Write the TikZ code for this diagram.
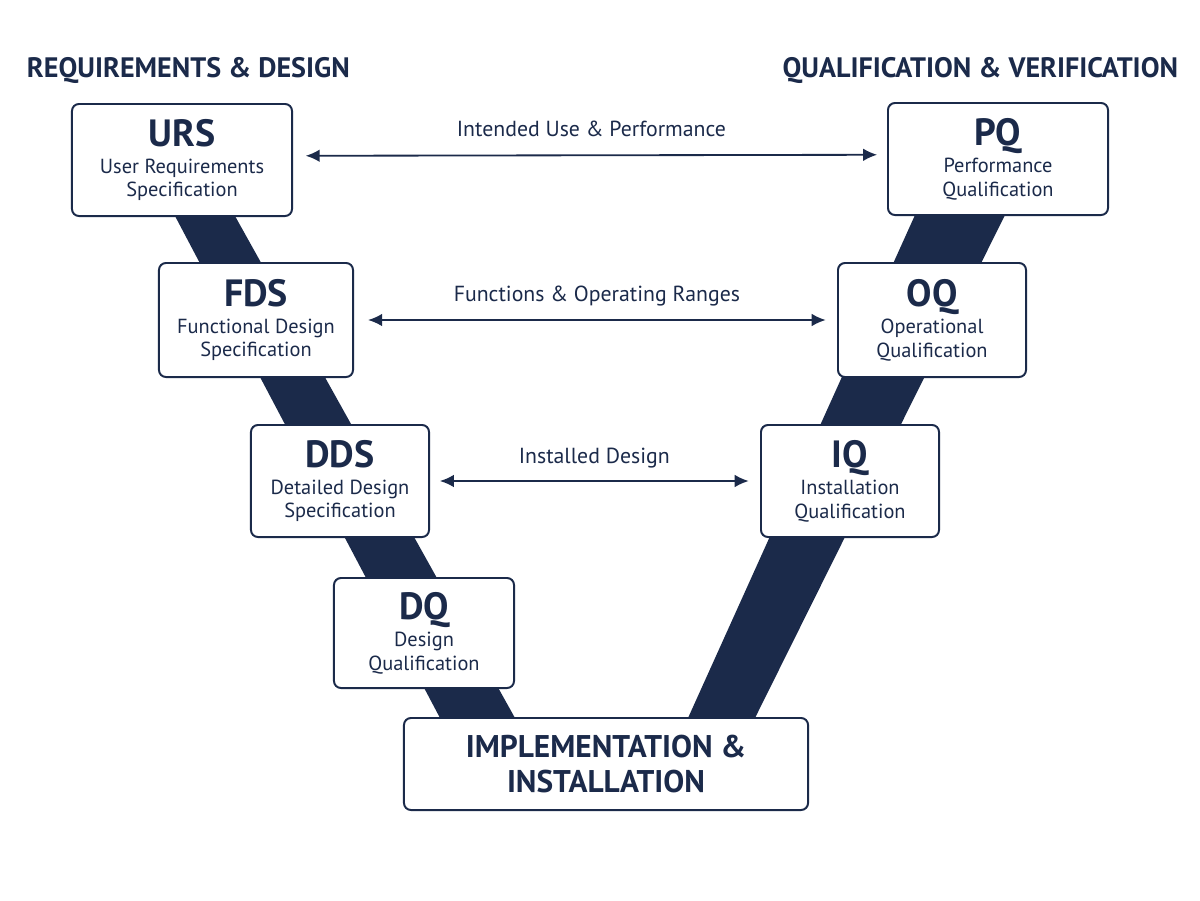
\documentclass[tikz,border=0pt]{standalone}
\usepackage{fontspec}
\setmainfont{PT Sans}
\usetikzlibrary{arrows.meta}
\definecolor{navy}{HTML}{1B2A4A}
\tikzset{
  stage/.style={draw=navy, line width=1.4pt, fill=white, rounded corners=5pt, align=center, text=navy, inner sep=0pt, font=\fontsize{14.5}{16.5}\selectfont},
  link/.style={{Latex[length=10pt,width=9pt]}-{Latex[length=10pt,width=9pt]}, navy, line width=1.3pt},
  linklabel/.style={text=navy, font=\fontsize{15.5}{17}\selectfont},
  head/.style={text=navy, font=\fontsize{20}{22}\selectfont\bfseries}
}
\newcommand{\stagename}[1]{\fontsize{27}{31}\selectfont\bfseries #1}
\begin{document}
\begin{tikzpicture}[x=0.025cm, y=-0.025cm]
\useasboundingbox (0,0) rectangle (1200,900);
% V bands
\fill[navy] (175,216) -- (235,216) -- (515,718) -- (440,718) -- cycle;
\fill[navy] (915,215) -- (1005,215) -- (755,718) -- (688,718) -- cycle;

% Headings
\node[head, anchor=west] (reqhead) at (22,70) {REQUIREMENTS \& DESIGN};
\node[head, anchor=east] (qualhead) at (1183,70) {QUALIFICATION \& VERIFICATION};

% Left side
\node[stage, minimum width=5.5cm, minimum height=2.8cm] (urs) at (182,160) {\stagename{URS}\\[3pt]User Requirements\\Specification};
\node[stage, minimum width=4.85cm, minimum height=2.85cm] (fds) at (256,320) {\stagename{FDS}\\[3pt]Functional Design\\Specification};
\node[stage, minimum width=4.45cm, minimum height=2.8cm] (dds) at (340,481) {\stagename{DDS}\\[3pt]Detailed Design\\Specification};
\node[stage, minimum width=4.5cm, minimum height=2.75cm] (dq) at (424,633) {\stagename{DQ}\\[3pt]Design\\Qualification};

% Right side
\node[stage, minimum width=5.5cm, minimum height=2.8cm] (pq) at (998,159) {\stagename{PQ}\\[3pt]Performance\\Qualification};
\node[stage, minimum width=4.7cm, minimum height=2.85cm] (oq) at (932,320) {\stagename{OQ}\\[3pt]Operational\\Qualification};
\node[stage, minimum width=4.45cm, minimum height=2.8cm] (iq) at (850,481) {\stagename{IQ}\\[3pt]Installation\\Qualification};

% Bottom
\node[stage, minimum width=10.1cm, minimum height=2.3cm, font=\fontsize{22.3}{25}\selectfont\bfseries] (impl) at (606,764) {IMPLEMENTATION \&\\INSTALLATION};

% Links
\draw[link] ([xshift=9pt,yshift=3pt]urs.east) -- node[linklabel, above=9pt] {Intended Use \& Performance} ([xshift=-7pt,yshift=3pt]pq.west);
\draw[link] ([xshift=10pt]fds.east) -- node[linklabel, above=6pt] {Functions \& Operating Ranges} ([xshift=-8pt]oq.west);
\draw[link] ([xshift=7pt]dds.east) -- node[linklabel, above=5pt] {Installed Design} ([xshift=-8pt]iq.west);
\end{tikzpicture}
\end{document}
